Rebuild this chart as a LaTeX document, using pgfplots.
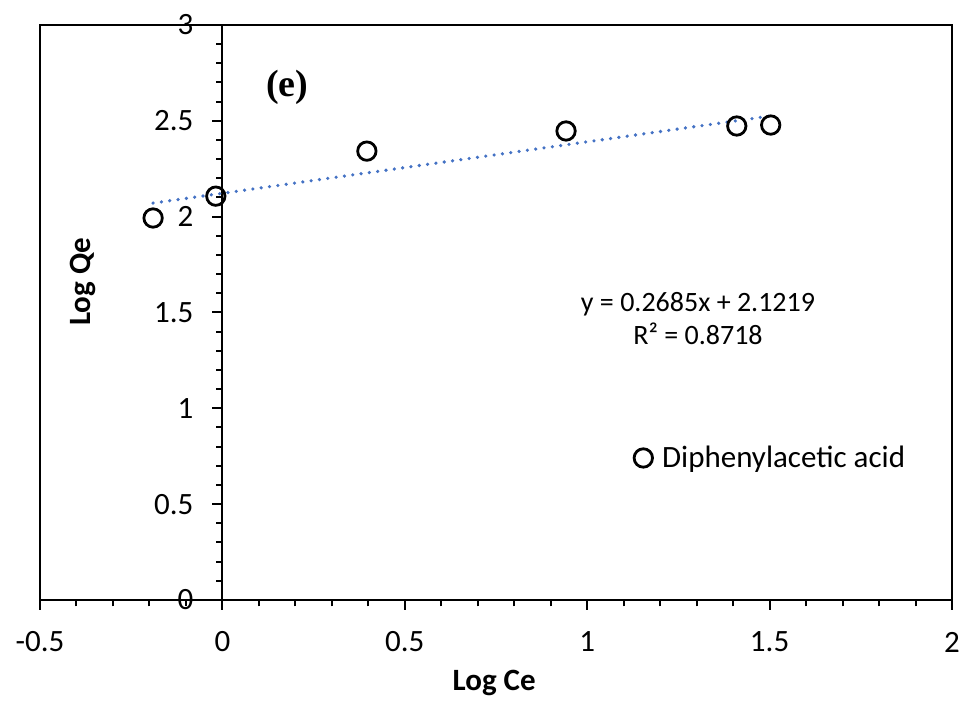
\documentclass[border=0pt]{standalone}
\usepackage{pgfplots}
\pgfplotsset{compat=1.18}
\usepackage{fontspec}
\setmainfont{Carlito}
\newfontfamily\timesfont{Liberation Serif}

\definecolor{trendblue}{RGB}{68,114,196}

\pgfplotstableread{
x      y
-0.190 1.993
-0.018 2.107
0.396  2.342
0.942  2.447
1.410  2.473
1.503  2.478
}\datatable

\begin{document}
\begin{tikzpicture}
\useasboundingbox (0pt,0pt) rectangle (480.5pt,352.5pt);
\begin{axis}[
    at={(20pt,52.5pt)}, anchor=south west,
    scale only axis,
    width=456pt, height=287.5pt,
    xmin=-0.5, xmax=2, ymin=0, ymax=3,
    axis lines=middle,
    axis line style={-, line width=1pt, black},
    hide obscured x ticks=false,
    hide obscured y ticks=false,
    xtick={-0.5,0,0.5,1,1.5,2},
    ytick={0,0.5,1,1.5,2,2.5,3},
    xticklabels={-0.5,0,0.5,1,1.5,2},
    yticklabels={0,0.5,1,1.5,2,2.5,3},
    minor x tick num=4,
    minor y tick num=4,
    tick align=outside,
    major tick length=5pt,
    minor tick length=3.2pt,
    every tick/.style={black, line width=1pt},
    /pgf/number format/assume math mode=true,
    tick label style={font=\fontsize{15.5}{17}\selectfont},
    x tick label style={anchor=center, yshift=-16pt},
    y tick label style={anchor=east, xshift=-6pt},
    every axis x label/.style={at={(rel axis cs:0.498,-0.144)}, anchor=center},
    every axis y label/.style={at={(rel axis cs:0.047,0.553)}, anchor=center, rotate=90},
    label style={font=\fontsize{15.5}{17}\selectfont\bfseries},
    xlabel={Log Ce},
    ylabel={Log Qe},
    legend style={draw=none, fill=none, at={(rel axis cs:0.651,0.247)}, anchor=west,
        font=\fontsize{15.5}{17}\selectfont, inner sep=0pt},
    legend image code/.code={\path[draw=none] (0pt,-2pt) rectangle (12pt,2pt); \draw[#1] plot coordinates {(4.6pt,0pt)};},
    after end axis/.code={\draw[line width=0.9pt] (rel axis cs:0,0) rectangle (rel axis cs:1,1);},
    clip=false,
]
\addplot[only marks, mark=o, mark size=4.6pt, line width=1.4pt, black] table[x=x, y=y] {\datatable};
\addlegendentry{Diphenylacetic acid}
\addplot[trendblue, line width=1.8pt, line cap=round, dash pattern=on 0pt off 4.2pt, forget plot]
    coordinates {(-0.190,2.0709) (1.503,2.5255)};
\node[font=\fontsize{14}{16.5}\selectfont, align=center, anchor=center] at (rel axis cs:0.7215,0.489)
    {y = 0.2685x + 2.1219\\R² = 0.8718};
\node[font=\timesfont\fontsize{19}{22}\selectfont\bfseries, anchor=center] at (rel axis cs:0.271,0.892) {(e)};
\end{axis}
\end{tikzpicture}
\end{document}
